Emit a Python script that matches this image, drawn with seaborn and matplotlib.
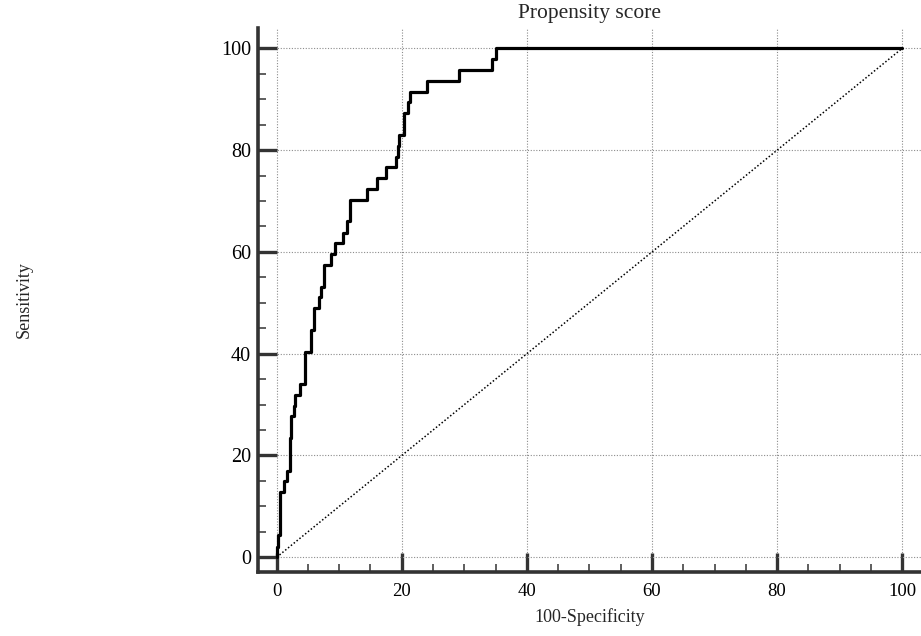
import numpy as np
import pandas as pd
import matplotlib
matplotlib.use("Agg")
import matplotlib.pyplot as plt
import seaborn as sns
from matplotlib.ticker import MultipleLocator

# ROC curve (steps-post corners)
fpr = [0, 0, 0.2, 0.6, 1.2, 1.65, 2.1, 2.35, 2.7, 3.0, 3.7, 4.5, 5.5, 6.0, 6.7, 7.05,
       7.6, 8.7, 9.3, 10.6, 11.2, 11.7, 14.5, 16.0, 17.5, 19.1, 19.4, 19.6, 20.4, 21.0,
       21.3, 24.1, 29.1, 34.4, 35.0, 100]
tpr = [0, 2.1, 4.3, 12.8, 14.9, 17.0, 23.4, 27.7, 29.8, 31.9, 34.0, 40.4, 44.7, 48.9,
       51.1, 53.2, 57.4, 59.6, 61.7, 63.8, 66.0, 70.2, 72.3, 74.5, 76.6, 78.7, 80.9, 83.0,
       87.2, 89.4, 91.5, 93.6, 95.7, 97.9, 100, 100]
diag_x = [0, 100]
diag_y = [0, 100]
ticks = [0, 20, 40, 60, 80, 100]

sns.set_style("white")
plt.rcParams['font.family'] = ['Liberation Serif', 'DejaVu Serif']

roc = pd.DataFrame({"fpr": fpr, "tpr": tpr})

fig = plt.figure(figsize=(9.21, 6.36), dpi=100)
ax = fig.add_axes([0.280, 0.1006, 0.720, 0.8554])

sns.lineplot(x=diag_x, y=diag_y, ax=ax, color="black", linewidth=1.1,
             linestyle=(0, (1, 1.4)), estimator=None, sort=False, zorder=3)
sns.lineplot(data=roc, x="fpr", y="tpr", ax=ax, color="black", linewidth=2.3,
             drawstyle="steps-post", estimator=None, sort=False, zorder=4)

ax.set_xlim(-3.0, 103.0)
ax.set_ylim(-2.9, 104.0)
ax.set_xticks(ticks)
ax.set_yticks(ticks)
ax.xaxis.set_minor_locator(MultipleLocator(5))
ax.yaxis.set_minor_locator(MultipleLocator(5))

ax.grid(True, which="major", color="#8c8c8c", linestyle=(0, (1, 1.5)), linewidth=0.8)
ax.set_axisbelow(True)

for side in ["top", "right"]:
    ax.spines[side].set_visible(False)
for side in ["left", "bottom"]:
    ax.spines[side].set_linewidth(2.6)
    ax.spines[side].set_color("#333333")

ax.tick_params(which="both", bottom=True, left=True, top=False, right=False)
ax.tick_params(which="major", direction="in", length=13.5, width=2.4, color="#333333",
               labelcolor="black")
ax.tick_params(which="minor", direction="in", length=6, width=1.1, color="#333333")
ax.tick_params(axis="y", which="major", labelsize=14.5, pad=5)
ax.tick_params(axis="x", which="major", labelsize=13.5, pad=8)

ax.set_title("Propensity score", fontsize=15.5, pad=7)
ax.set_xlabel("100-Specificity", fontsize=13)
ax.set_ylabel("Sensitivity", fontsize=13)
ax.yaxis.set_label_coords(-0.34, 0.5)
ax.xaxis.labelpad = 6

fig.savefig("out.png", dpi=100)
